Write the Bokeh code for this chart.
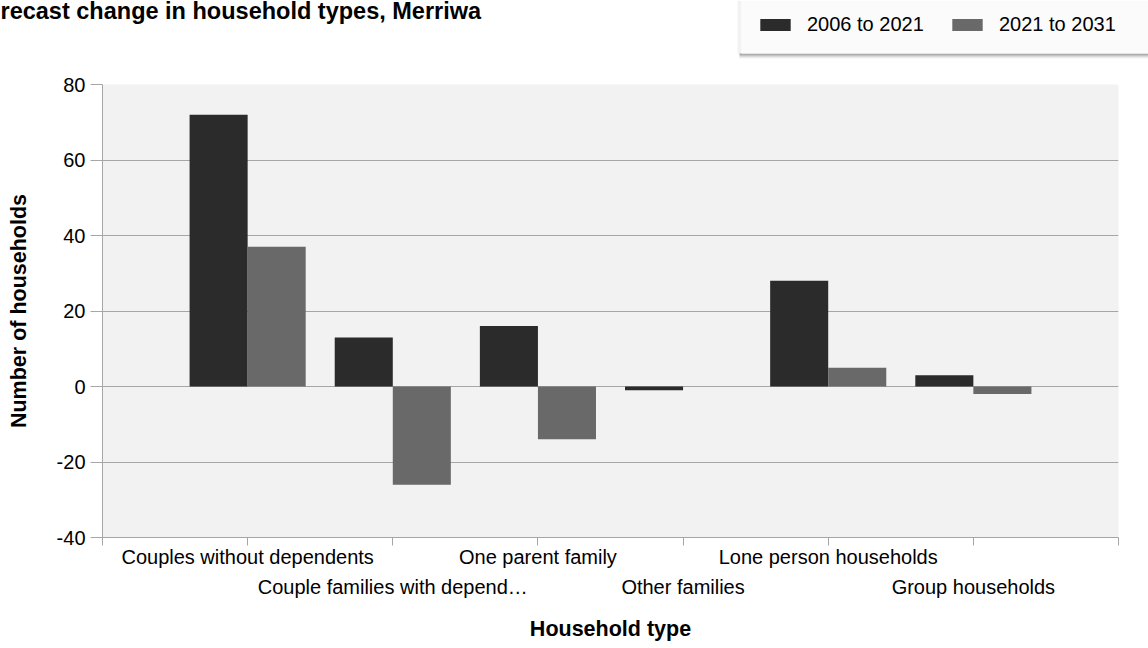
from bokeh.plotting import figure
from bokeh.layouts import column
from bokeh.models import (ColumnDataSource, FixedTicker, LinearAxis, Legend,
                          LegendItem, Range1d, Label, BoxAnnotation)
from bokeh.transform import dodge
from bokeh.embed import file_html
from bokeh.resources import INLINE

# Change in number of households by type
categories = [
    "Couples without dependents",
    "Couple families with depend\u2026",
    "One parent family",
    "Other families",
    "Lone person households",
    "Group households",
]
change_2006_2021 = [72, 13, 16, -1, 28, 3]
change_2021_2031 = [37, -26, -14, 0, 5, -2]
series_names = ["2006 to 2021", "2021 to 2031"]
y_ticks = [-40, -20, 0, 20, 40, 60, 80]

FONT = "Liberation Sans"
DARK = "#2b2b2b"
LIGHT = "#696969"
AXIS_GREY = "#a6a6a6"
WIDTH = 1148
HEAD_H = 64

# ---------------------------------------------------------------- header strip
# Pixel-like ranges (y grows downward) for the heading and the legend box.
head = figure(
    width=WIDTH, height=HEAD_H,
    x_range=Range1d(0, WIDTH), y_range=Range1d(HEAD_H, 0),
    output_backend="svg", toolbar_location=None,
    min_border=0, x_axis_location=None, y_axis_location=None,
)
head.grid.visible = False
head.outline_line_color = None
head.background_fill_color = "white"
head.border_fill_color = "white"

head.add_layout(Label(
    text="recast change in household types, Merriwa", x=0, y=10,
    text_font=FONT, text_font_style="bold", text_font_size="23.5px",
    text_color="black", text_baseline="alphabetic", text_align="left"))

# legend panel: soft drop shadow, then the box itself
for i, a in enumerate([0.40, 0.30, 0.20, 0.11, 0.05]):
    head.add_layout(BoxAnnotation(left=739, right=WIDTH, top=53 + i, bottom=54 + i,
                                  fill_color="black", fill_alpha=a, line_color=None))
head.add_layout(BoxAnnotation(left=737, right=741, top=0, bottom=53,
                              fill_color="black", fill_alpha=0.05, line_color=None))
head.add_layout(BoxAnnotation(left=741, right=WIDTH, top=0, bottom=53,
                              fill_color="#fbfbfb", fill_alpha=1, line_color=None))

swatch_a = head.vbar(x=[0], top=[0], width=1, fill_color=DARK, line_color=None)
swatch_b = head.vbar(x=[0], top=[0], width=1, fill_color=LIGHT, line_color=None)
legend = Legend(
    items=[LegendItem(label=series_names[0], renderers=[swatch_a]),
           LegendItem(label=series_names[1], renderers=[swatch_b])],
    orientation="horizontal", location=(756, 28),
    padding=19, margin=0, spacing=11, glyph_width=38, glyph_height=15,
    label_standoff=13, label_width=130, label_height=20,
    label_text_font=FONT, label_text_font_size="20px", label_text_color="black",
    background_fill_alpha=0, border_line_color=None,
)
head.add_layout(legend, "center")

# ---------------------------------------------------------------- bar chart
positions = list(range(1, len(categories) + 1))
source = ColumnDataSource(dict(
    pos=positions,
    a=change_2006_2021,
    b=change_2021_2031,
))

p = figure(
    width=WIDTH, height=648 - HEAD_H,
    x_range=Range1d(0, len(categories) + 1),
    y_range=Range1d(y_ticks[0], y_ticks[-1]),
    output_backend="svg", toolbar_location=None,
    min_border_left=102, min_border_right=30,
    min_border_top=84 - HEAD_H, min_border_bottom=111,
    x_axis_location=None, y_axis_location=None,
)
p.background_fill_color = "#f2f2f2"
p.border_fill_color = "white"
p.outline_line_color = None

# keep the two stacked canvases from lining up their frames
for fig in (head, p):
    if "frame_align" in fig.properties():
        fig.frame_align = False

p.vbar(x=dodge("pos", -0.2), top="a", width=0.4, source=source,
       fill_color=DARK, line_color=None)
p.vbar(x=dodge("pos", 0.2), top="b", width=0.4, source=source,
       fill_color=LIGHT, line_color=None)

# Left value axis (plain hyphen for negative numbers)
yaxis = LinearAxis(ticker=FixedTicker(ticks=y_ticks),
                   major_label_overrides={t: str(t) for t in y_ticks})
yaxis.axis_label = "Number of households"
yaxis.axis_label_text_font = FONT
yaxis.axis_label_text_font_style = "bold"
yaxis.axis_label_text_font_size = "21.5px"
yaxis.axis_label_text_color = "black"
yaxis.axis_label_standoff = 23
yaxis.major_label_text_font = FONT
yaxis.major_label_text_font_size = "20px"
yaxis.major_label_text_color = "black"
yaxis.major_label_standoff = 5
yaxis.major_tick_out = 12
yaxis.major_tick_in = 0
yaxis.minor_tick_line_color = None
yaxis.major_tick_line_color = AXIS_GREY
yaxis.axis_line_color = AXIS_GREY
p.add_layout(yaxis, "left")

# Bottom category axis: first row of labels on odd positions
edges = list(range(0, len(categories) + 2))
row1 = {i + 1: (name if i % 2 == 0 else "") for i, name in enumerate(categories)}
row1.update({0: "", len(categories) + 1: ""})
xaxis1 = LinearAxis(ticker=FixedTicker(ticks=edges), major_label_overrides=row1)
xaxis1.major_label_text_font = FONT
xaxis1.major_label_text_font_size = "20px"
xaxis1.major_label_text_color = "black"
xaxis1.major_label_standoff = 0
xaxis1.major_tick_out = 8
xaxis1.major_tick_in = 0
xaxis1.minor_tick_line_color = None
xaxis1.major_tick_line_color = AXIS_GREY
xaxis1.axis_line_color = AXIS_GREY
p.add_layout(xaxis1, "below")

# Second row of labels on even positions
even_pos = [i + 1 for i in range(len(categories)) if i % 2 == 1]
row2 = {i + 1: name for i, name in enumerate(categories) if i % 2 == 1}
xaxis2 = LinearAxis(ticker=FixedTicker(ticks=even_pos), major_label_overrides=row2)
xaxis2.major_label_text_font = FONT
xaxis2.major_label_text_font_size = "20px"
xaxis2.major_label_text_color = "black"
xaxis2.major_label_standoff = 5
xaxis2.major_tick_out = 0
xaxis2.major_tick_in = 0
xaxis2.minor_tick_line_color = None
xaxis2.major_tick_line_color = None
xaxis2.axis_line_color = None
xaxis2.axis_label = "Household type"
xaxis2.axis_label_text_font = FONT
xaxis2.axis_label_text_font_style = "bold"
xaxis2.axis_label_text_font_size = "21.5px"
xaxis2.axis_label_text_color = "black"
xaxis2.axis_label_standoff = 16
p.add_layout(xaxis2, "below")

p.xgrid.visible = False
p.ygrid.ticker = FixedTicker(ticks=y_ticks)
p.ygrid.grid_line_color = AXIS_GREY

page = column(head, p, spacing=0)
open("out.html", "w").write(file_html(page, INLINE))
